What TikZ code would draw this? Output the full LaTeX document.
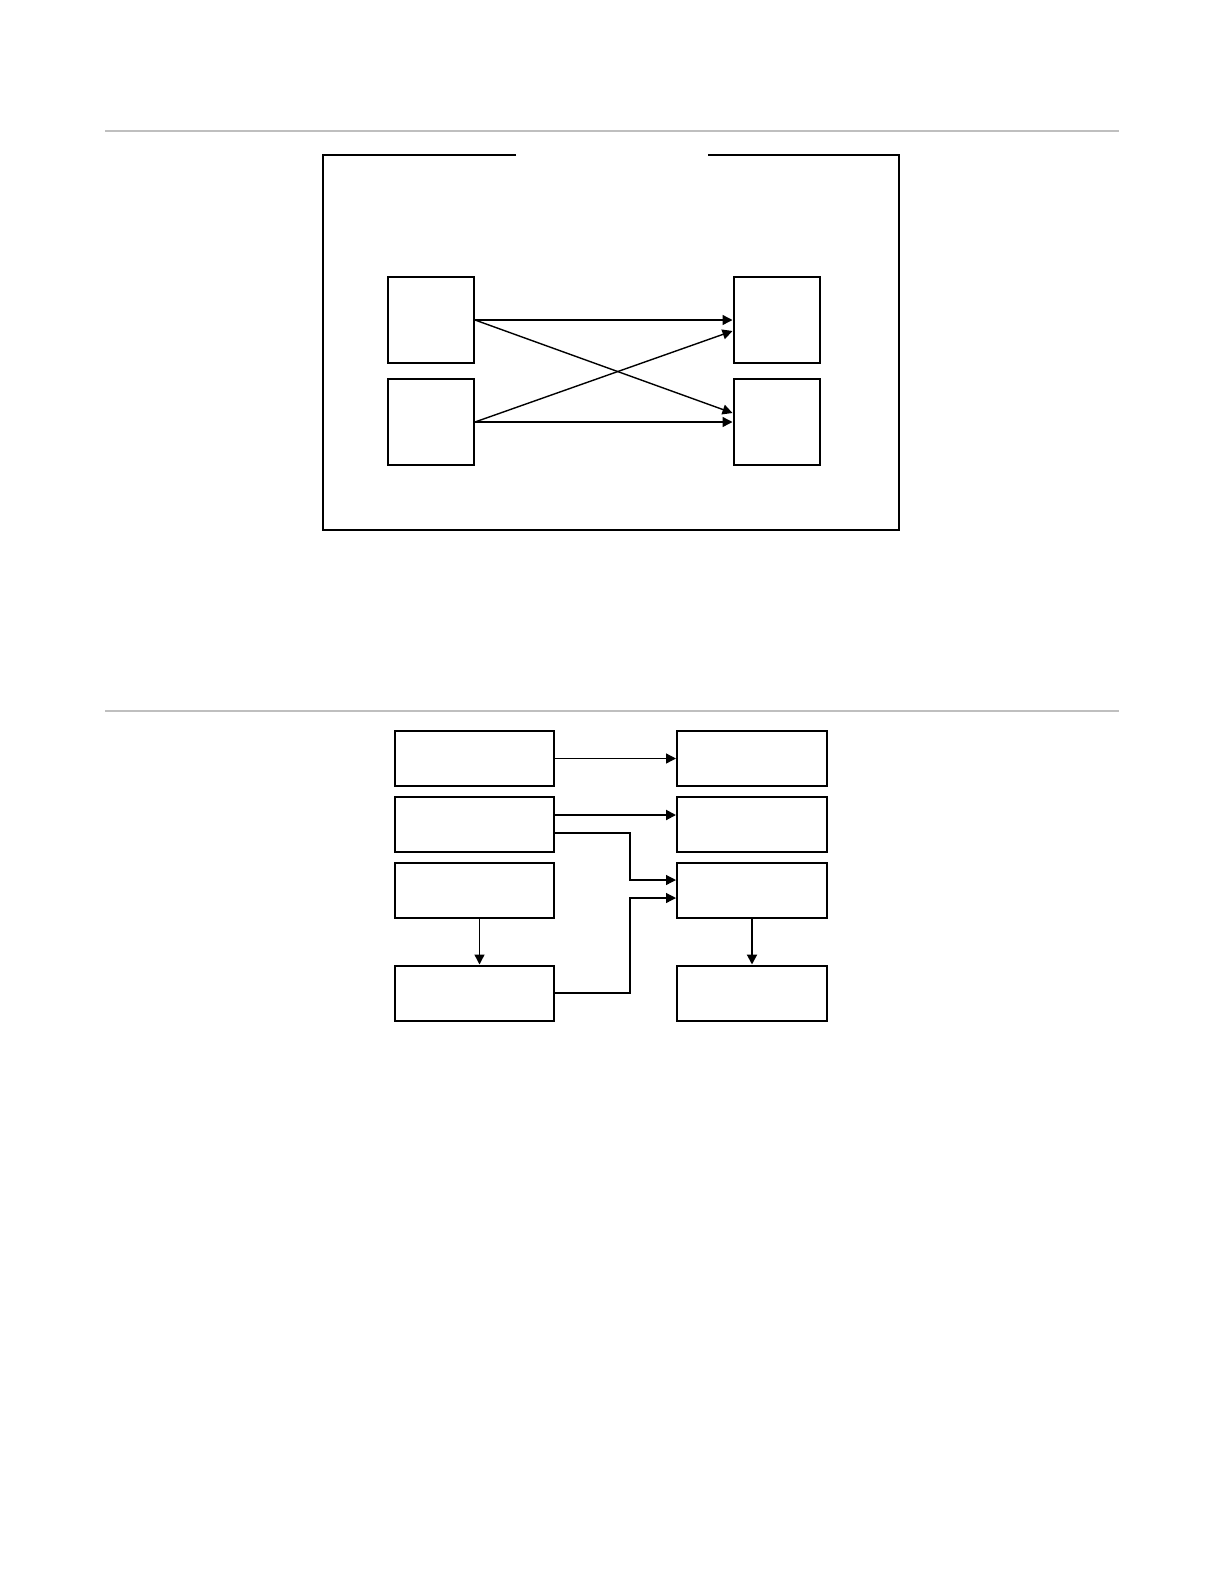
\documentclass[tikz,border=0pt]{standalone}
\usetikzlibrary{arrows.meta}

\begin{document}
\begin{tikzpicture}[x=0.5bp, y=-0.5bp,
    box/.style={draw, line width=1bp, inner sep=0pt},
    sqbox/.style={box, minimum width=43bp, minimum height=43bp},
    widebox/.style={box, minimum width=79.5bp, minimum height=27.5bp},
    narrowbox/.style={box, minimum width=75bp, minimum height=27.5bp},
    link/.style={line width=0.7bp, -{Triangle[length=5bp, width=5bp]}},
    thicklink/.style={link, line width=1bp},
    rule/.style={draw=black!25, line width=0.8bp}]
    \useasboundingbox (0,0) rectangle (1224,1584);

    % separating rules
    \draw[rule] (105,131) -- (1119,131);
    \draw[rule] (105,711) -- (1119,711);

    % upper figure
    \draw[line width=1.1bp] (516,155) -- (323,155) -- (323,530) -- (899,530) -- (899,155) -- (708,155);
    \node[sqbox] (inA) at (431,320) {};
    \node[sqbox] (inB) at (431,422) {};
    \node[sqbox] (outA) at (776.5,320) {};
    \node[sqbox] (outB) at (776.5,422) {};

    \draw[link] (inA.east) -- (outA.west);
    \draw[link] (inA.east) -- ([yshift=4.5bp]outB.west);
    \draw[link] (inB.east) -- ([yshift=-5.5bp]outA.west);
    \draw[link] (inB.east) -- (outB.west);

    % lower figure
    \node[widebox] (src1) at (474.5,758.5) {};
    \node[widebox] (src2) at (474.5,824) {};
    \node[widebox] (src3) at (474.5,890) {};
    \node[widebox] (src4) at (474.5,993) {};
    \node[narrowbox] (dst1) at (752,758.5) {};
    \node[narrowbox] (dst2) at (752,824) {};
    \node[narrowbox] (dst3) at (752,890) {};
    \node[narrowbox] (dst4) at (752,993) {};

    \coordinate (jn) at (630,900);
    \coordinate (src2hi) at ([yshift=4.5bp]src2.east);
    \coordinate (src2lo) at ([yshift=-4.5bp]src2.east);
    \coordinate (dst2hi) at ([yshift=4.5bp]dst2.west);
    \coordinate (dst3hi) at ([yshift=5bp]dst3.west);
    \coordinate (dst3lo) at ([yshift=-4bp]dst3.west);

    \draw[link] (src1.east) -- (dst1.west);
    \draw[thicklink] (src2hi) -- (dst2hi);
    \draw[link, line width=0.6bp] (src2lo) -| (jn |- dst3hi) -- (dst3hi);
    \draw[link, line width=0.6bp] (src4.east) -| (jn |- dst3lo) -- (dst3lo);
    \draw[link] ([xshift=2.5bp]src3.south) -- ([xshift=2.5bp]src4.north);
    \draw[thicklink] (dst3.south) -- (dst4.north);
\end{tikzpicture}
\end{document}
